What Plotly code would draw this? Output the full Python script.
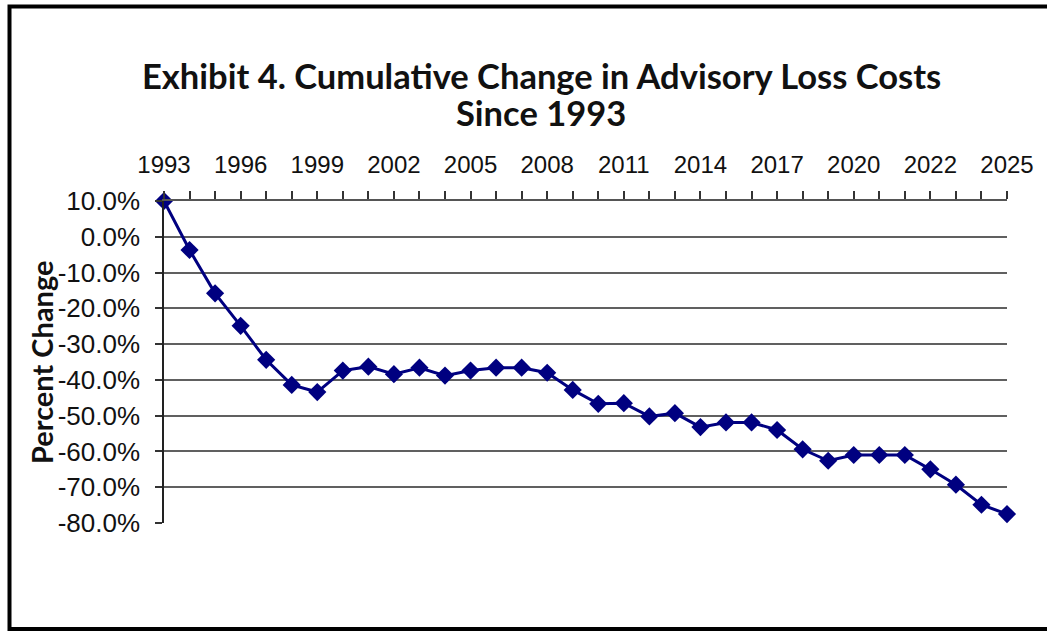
import plotly.graph_objects as go

years = [str(y) for y in range(1993, 2021)] + ["2021", "2021"] + [str(y) for y in range(2022, 2026)]
pct_change = [10.0, -3.7, -15.8, -24.9, -34.4, -41.4, -43.4, -37.4, -36.3, -38.4,
              -36.6, -38.8, -37.4, -36.6, -36.6, -38.0, -42.8, -46.7, -46.5, -50.2,
              -49.3, -53.2, -51.9, -51.9, -54.0, -59.4, -62.6, -61.0, -61.0, -61.0,
              -65.0, -69.3, -74.9, -77.5]
y_ticks = [10, 0, -10, -20, -30, -40, -50, -60, -70, -80]
y_tick_labels = ["10.0%", "0.0%", "-10.0%", "-20.0%", "-30.0%", "-40.0%",
                 "-50.0%", "-60.0%", "-70.0%", "-80.0%"]
title_lines = ["Exhibit 4. Cumulative Change in Advisory Loss Costs", "Since 1993"]

idx = list(range(len(years)))
tick_text = [y if i % 3 == 0 else "" for i, y in enumerate(years)]

W, H = 1047, 631
L, R, T, B = 164, 1007, 201, 523
pw, ph = R - L, B - T

def px_x(p):
    return (p - L) / pw

def px_y(p):
    return (B - p) / ph

fig = go.Figure()
fig.add_trace(go.Scatter(
    x=idx, y=pct_change, mode="lines+markers",
    line=dict(color="#000080", width=3),
    marker=dict(symbol="diamond", size=14, color="#000080"),
    cliponaxis=False, showlegend=False,
))

title_font = dict(family="Lato", size=34.5, color="#111111", weight="bold")

fig.update_layout(
    width=W, height=H,
    margin=dict(l=L, r=W - R, t=T, b=H - B, pad=0),
    paper_bgcolor="white", plot_bgcolor="white",
    xaxis=dict(
        side="top", range=[0, len(years) - 1],
        tickmode="array", tickvals=idx, ticktext=tick_text,
        ticks="outside", ticklen=8, tickcolor="#333333", tickwidth=1.5,
        showline=True, linecolor="#555555", linewidth=2,
        showgrid=False, zeroline=False,
        tickfont=dict(family="Liberation Sans", size=24, color="#111111"),
        ticklabelstandoff=8,
    ),
    yaxis=dict(
        range=[-80, 10], tickmode="array", tickvals=y_ticks, ticktext=y_tick_labels,
        ticks="outside", ticklen=7, tickcolor="#333333", tickwidth=1.5,
        showline=True, linecolor="#222222", linewidth=1.5,
        showgrid=True, gridcolor="#606060", gridwidth=2,
        zeroline=False,
        tickfont=dict(family="Liberation Sans", size=26, color="#111111"),
        ticklabelstandoff=10,
    ),
    shapes=[dict(
        type="rect", xref="paper", yref="paper",
        x0=px_x(9.5), x1=px_x(1070), y0=px_y(629), y1=px_y(6.5),
        line=dict(color="black", width=4), fillcolor="rgba(0,0,0,0)", layer="above",
    )],
    annotations=[
        dict(text=title_lines[0], x=px_x(541), y=px_y(75), xref="paper", yref="paper",
             showarrow=False, xanchor="center", yanchor="middle", font=title_font),
        dict(text=title_lines[1], x=px_x(541), y=px_y(112), xref="paper", yref="paper",
             showarrow=False, xanchor="center", yanchor="middle", font=title_font),
        dict(text="Percent Change", x=px_x(41), y=px_y(362), xref="paper", yref="paper",
             textangle=-90, showarrow=False, xanchor="center", yanchor="middle",
             font=dict(family="Lato", size=29, color="#111111", weight="bold")),
    ],
)

fig.write_html("out.html", config={"displayModeBar": False},
               post_script="document.body.style.margin='0px';")
